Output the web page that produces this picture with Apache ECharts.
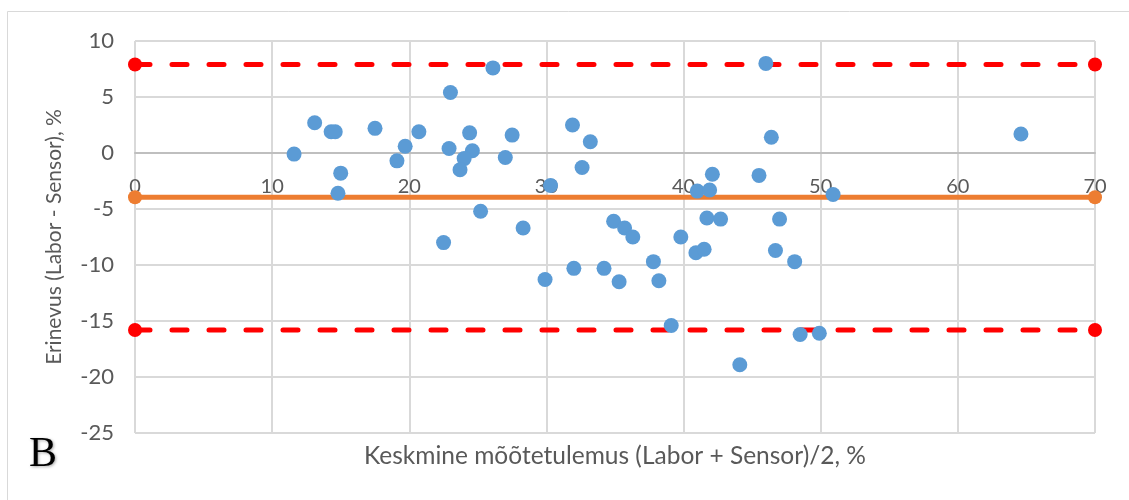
<!DOCTYPE html>
<html>
<head>
<meta charset="utf-8">
<script src="https://cdn.jsdelivr.net/npm/echarts@6/dist/echarts.min.js"></script>
<style>
  html, body { margin: 0; padding: 0; background: #fff; }
  #chart { width: 1129px; height: 500px; }
</style>
</head>
<body>
<div id="chart"></div>
<script>
  // Bland-Altman data: mean of the two methods vs their difference
  var meanVals = [11.6, 13.1, 14.3, 14.6, 15.0, 14.8, 17.5, 19.1, 19.7, 20.7,
    23.0, 22.9, 24.4, 24.6, 24.0, 23.7, 25.2, 26.1, 27.5, 27.0,
    31.9, 33.2, 32.6, 30.3, 46.0, 46.4, 42.1, 45.5, 41.0, 41.9,
    50.9, 64.6, 22.5, 28.3, 29.9, 32.0, 34.2, 35.3, 34.9, 35.7,
    36.3, 37.8, 38.2, 39.8, 39.1, 41.7, 42.7, 47.0, 40.9, 41.5,
    46.7, 48.1, 48.5, 49.9, 44.1]
  var diffVals = [-0.1, 2.7, 1.9, 1.9, -1.8, -3.6, 2.2, -0.7, 0.6, 1.9,
    5.4, 0.4, 1.8, 0.2, -0.5, -1.5, -5.2, 7.6, 1.6, -0.4,
    2.5, 1.0, -1.3, -2.9, 8.0, 1.4, -1.9, -2.0, -3.4, -3.3,
    -3.7, 1.7, -8.0, -6.7, -11.3, -10.3, -10.3, -11.5, -6.1, -6.7,
    -7.5, -9.7, -11.4, -7.5, -15.4, -5.8, -5.9, -5.9, -8.9, -8.6,
    -8.7, -9.7, -16.2, -16.1, -18.9]
  var lineX = [0, 70]
  var bias = -3.95
  var upperLoA = 7.9
  var lowerLoA = -15.8

  var xTicks = [0, 10, 20, 30, 40, 50, 60, 70]
  var yTicks = [-25, -20, -15, -10, -5, 0, 5, 10]

  var points = meanVals.map(function (m, i) { return [m, diffVals[i]] })
  function flat(v) { return lineX.map(function (x) { return [x, v] }) }

  var gridTop = 41, gridBottom = 67, chartH = 500
  // pixel height of the plot, used to lift the x axis up to y = 0
  var plotH = chartH - gridTop - gridBottom
  var zeroShift = plotH * (0 - yTicks[0]) / (yTicks[yTicks.length - 1] - yTicks[0])

  var labelFont = 'Lato, "Liberation Sans", sans-serif'
  var chart = echarts.init(document.getElementById('chart'))
  chart.setOption({
    animation: false,
    backgroundColor: '#fff',
    grid: { left: 135, right: 34, top: gridTop, bottom: gridBottom },
    graphic: [
      {
        type: 'rect', silent: true, z: -1,
        shape: { x: 7.5, y: 11.5, width: 1200, height: 600 },
        style: { fill: 'none', stroke: '#d9d9d9', lineWidth: 1 }
      },
      {
        type: 'text', x: 615, y: 456,
        style: {
          text: 'Keskmine mõõtetulemus (Labor + Sensor)/2, %',
          fill: '#595959', font: '24.5px ' + labelFont,
          align: 'center', verticalAlign: 'middle'
        }
      },
      {
        type: 'text', x: 43, y: 455,
        style: {
          text: 'B', fill: '#000', font: '42px "Liberation Serif", serif',
          align: 'center', verticalAlign: 'middle',
          textShadowColor: 'rgba(0,0,0,0.35)', textShadowBlur: 3, textShadowOffsetX: 1, textShadowOffsetY: 1
        }
      }
    ],
    xAxis: {
      type: 'value',
      min: xTicks[0], max: xTicks[xTicks.length - 1], interval: 10,
      offset: -zeroShift,
      axisLine: { onZero: false, lineStyle: { color: '#bfbfbf', width: 2 } },
      axisTick: { show: false },
      axisLabel: { color: '#595959', fontSize: 20, fontFamily: labelFont, margin: 24 },
      splitLine: { lineStyle: { color: '#d9d9d9', width: 2 } }
    },
    yAxis: {
      type: 'value',
      min: yTicks[0], max: yTicks[yTicks.length - 1], interval: 5,
      name: 'Erinevus (Labor - Sensor), %',
      nameLocation: 'middle', nameGap: 70,
      nameTextStyle: { color: '#595959', fontSize: 21, fontFamily: labelFont },
      axisLine: { show: false },
      axisTick: { show: false },
      axisLabel: { color: '#595959', fontSize: 22, fontFamily: labelFont, margin: 21 },
      splitLine: { lineStyle: { color: '#d9d9d9', width: 2 } }
    },
    series: [
      {
        name: 'Ülemine piir', type: 'line', data: flat(upperLoA),
        symbol: 'circle', symbolSize: 14, showSymbol: true,
        itemStyle: { color: '#ff0000' },
        lineStyle: { color: '#ff0000', width: 5, type: [15, 22], cap: 'round' },
        z: 2
      },
      {
        name: 'Alumine piir', type: 'line', data: flat(lowerLoA),
        symbol: 'circle', symbolSize: 14, showSymbol: true,
        itemStyle: { color: '#ff0000' },
        lineStyle: { color: '#ff0000', width: 5, type: [15, 22], cap: 'round' },
        z: 2
      },
      {
        name: 'Keskmine erinevus', type: 'line', data: flat(bias),
        symbol: 'circle', symbolSize: 14, showSymbol: true,
        itemStyle: { color: '#ed7d31' },
        lineStyle: { color: '#ed7d31', width: 5 },
        z: 2
      },
      {
        name: 'Erinevus', type: 'scatter', data: points,
        symbolSize: 15,
        itemStyle: { color: '#5b9bd5', opacity: 1 },
        z: 3
      }
    ]
  })
</script>
</body>
</html>
